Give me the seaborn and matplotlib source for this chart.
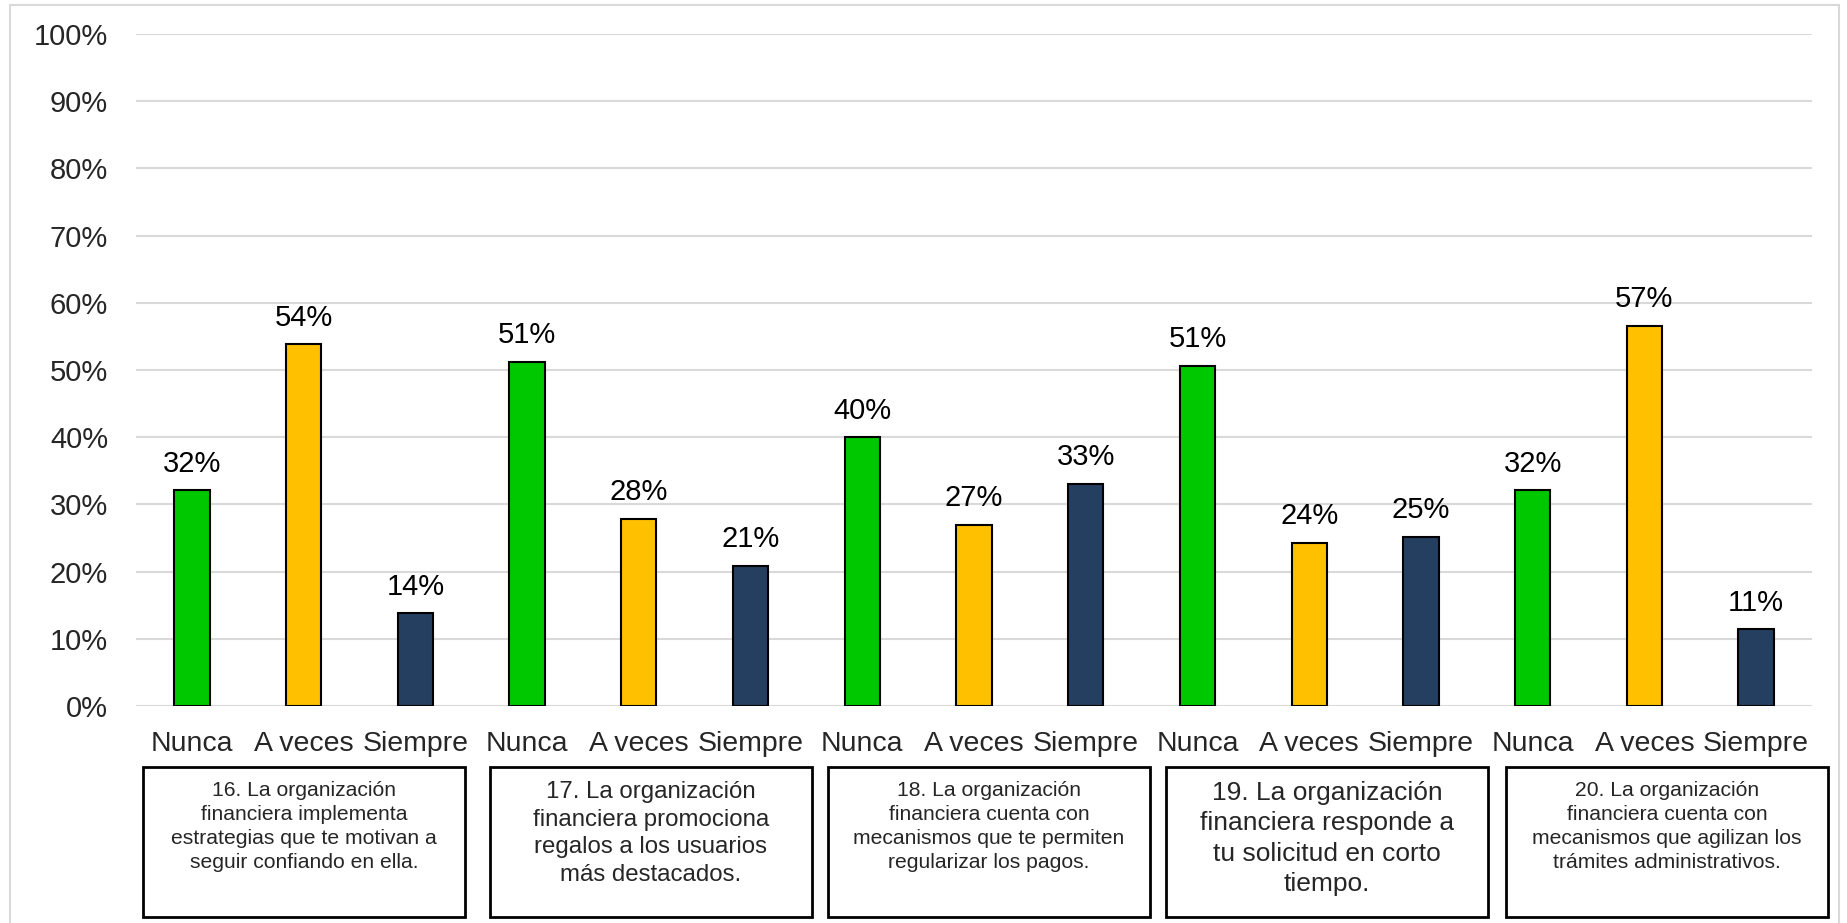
import pandas as pd
import seaborn as sns
import matplotlib.pyplot as plt
from matplotlib.patches import Rectangle
from matplotlib.ticker import PercentFormatter

# valores (% de respuestas por pregunta)
preguntas = [
    "16. La organización\nfinanciera implementa\nestrategias que te motivan a\nseguir confiando en ella.",
    "17. La organización\nfinanciera promociona\nregalos a los usuarios\nmás destacados.",
    "18. La organización\nfinanciera cuenta con\nmecanismos que te permiten\nregularizar los pagos.",
    "19. La organización\nfinanciera responde a\ntu solicitud en corto\ntiempo.",
    "20. La organización\nfinanciera cuenta con\nmecanismos que agilizan los\ntrámites administrativos.",
]
respuestas = ["Nunca", "A veces", "Siempre"]
nunca = [32.1, 51.2, 40.0, 50.6, 32.1]
a_veces = [53.8, 27.9, 27.0, 24.3, 56.6]
siempre = [13.8, 20.9, 33.1, 25.2, 11.4]
y_ticks = list(range(0, 101, 10))

colores = {"Nunca": "#00C800", "A veces": "#FFC000", "Siempre": "#243F60"}
tam_caja = [15.2, 17.3, 15.2, 19, 15.2]
cajas_px = [143, 490, 828, 1166, 1506]  # borde izquierdo de cada caja (px)

filas = []
for i, p in enumerate(preguntas):
    for r, vals in zip(respuestas, [nunca, a_veces, siempre]):
        filas.append({"clave": f"{i}-{r}", "respuesta": r, "valor": vals[i]})
df = pd.DataFrame(filas)

sns.set_style("white")
plt.rcParams["font.family"] = ["Liberation Sans", "DejaVu Sans"]

W, H = 1847, 923
fig = plt.figure(figsize=(W / 100, H / 100), dpi=100)
ax = fig.add_axes([136 / W, 1 - 706 / H, (1812 - 136) / W, (706 - 34) / H])

sns.barplot(data=df, x="clave", y="valor", hue="respuesta", order=df["clave"],
            hue_order=respuestas, palette=colores, dodge=False, width=0.316,
            saturation=1, edgecolor="black", linewidth=1.5, legend=False, ax=ax)

for c in ax.containers:
    ax.bar_label(c, fmt="{:.0f}%", padding=9, fontsize=21, color="black")

ax.set_ylim(0, 100)
ax.set_xlim(-0.5, len(df) - 0.5)
ax.set_yticks(y_ticks)
ax.yaxis.set_major_formatter(PercentFormatter(decimals=0))
ax.set_xticks(range(len(df)))
ax.set_xticklabels(df["respuesta"])
ax.tick_params(axis="x", length=0, pad=18, labelsize=20.5)
ax.tick_params(axis="y", length=0, pad=20, labelsize=21)
ax.set_xlabel("")
ax.set_ylabel("")
ax.yaxis.grid(True, color="#D9D9D9", linewidth=1.5)
ax.set_axisbelow(True)
sns.despine(ax=ax, left=True, bottom=True)

# cajas con el texto de cada pregunta
for x0, texto, fs in zip(cajas_px, preguntas, tam_caja):
    fig.add_artist(Rectangle((x0 / W, 1 - 917 / H), 322 / W, 150 / H,
                             transform=fig.transFigure, fill=False,
                             edgecolor="black", linewidth=2))
    fig.text((x0 + 161) / W, 1 - 781 / H, texto, ha="center", va="top",
             fontsize=fs, multialignment="center", linespacing=1.33)

# marco exterior (sin borde inferior visible)
fig.add_artist(Rectangle((10 / W, -20 / H), 1829 / W, 938 / H,
                         transform=fig.transFigure, fill=False,
                         edgecolor="#D9D9D9", linewidth=1.5))

fig.savefig("out.png", dpi=100)
